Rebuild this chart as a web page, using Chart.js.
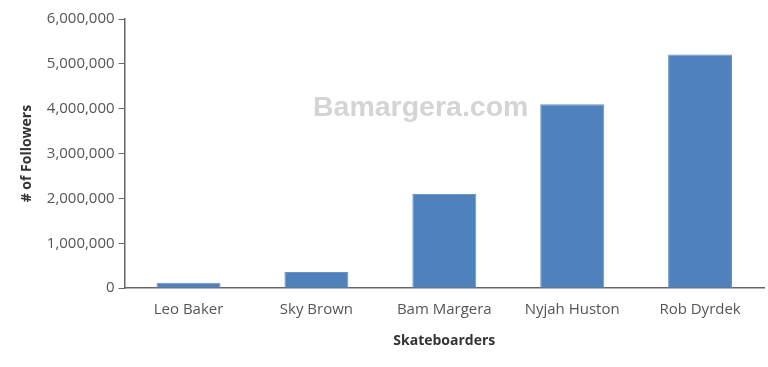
<!DOCTYPE html>
<html>
<head>
<meta charset="utf-8">
<script src="https://cdn.jsdelivr.net/npm/chart.js@4"></script>
<style>
  body { margin: 0; background: #fff; }
  #wrap { width: 768px; height: 367px; position: relative; }
</style>
</head>
<body>
<div id="wrap"><canvas id="followersChart"></canvas></div>
<script>
const skaters = ['Leo Baker', 'Sky Brown', 'Bam Margera', 'Nyjah Huston', 'Rob Dyrdek'];
const followers = [120000, 360000, 2100000, 4100000, 5210000];
const yTicks = [0, 1000000, 2000000, 3000000, 4000000, 5000000, 6000000];

const watermark = {
    id: 'watermark',
    afterDraw(chart) {
        const c = chart.ctx;
        c.save();
        c.font = 'bold 28.5px "Liberation Sans", Arial, sans-serif';
        c.fillStyle = '#d4d4d4';
        c.textBaseline = 'alphabetic';
        c.fillText('Bamargera.com', 313, 116);
        c.restore();
    }
};

const ctx = document.getElementById('followersChart').getContext('2d');

const followersChart = new Chart(ctx, {
    type: 'bar',
    data: {
        labels: skaters,
        datasets: [{
            data: followers,
            backgroundColor: '#4f81bd',
            borderColor: '#6a94c8',
            borderWidth: 1,
            categoryPercentage: 0.5,
            barPercentage: 1.0
        }]
    },
    options: {
        responsive: true,
        maintainAspectRatio: false,
        animation: false,
        layout: {
            padding: { left: 19, right: 4, top: 19, bottom: 18 }
        },
        plugins: {
            legend: { display: false },
            tooltip: { enabled: false }
        },
        scales: {
            x: {
                grid: { display: false, drawTicks: false },
                border: { display: true, color: '#666', width: 1.5 },
                ticks: {
                    padding: 13,
                    color: '#555',
                    font: { family: '"Open Sans", sans-serif', size: 15 }
                },
                title: {
                    display: true,
                    text: 'Skateboarders',
                    color: '#333',
                    padding: { top: 0, bottom: 0 },
                    font: { family: '"Open Sans", sans-serif', size: 14, weight: 'bold' }
                }
            },
            y: {
                min: 0,
                max: 6000000,
                afterBuildTicks(axis) {
                    axis.ticks = yTicks.map(v => ({ value: v }));
                },
                grid: { drawOnChartArea: false, drawTicks: true, tickLength: 6, color: '#666' },
                border: { display: true, color: '#666', width: 1.5 },
                ticks: {
                    padding: 4,
                    color: '#555',
                    font: { family: '"Open Sans", sans-serif', size: 15 },
                    callback: v => v.toLocaleString('en-US')
                },
                title: {
                    display: true,
                    text: '# of Followers',
                    color: '#333',
                    padding: { top: 0, bottom: 7 },
                    font: { family: '"Open Sans", sans-serif', size: 14, weight: 'bold' }
                }
            }
        }
    },
    plugins: [watermark]
});
</script>
</body>
</html>
